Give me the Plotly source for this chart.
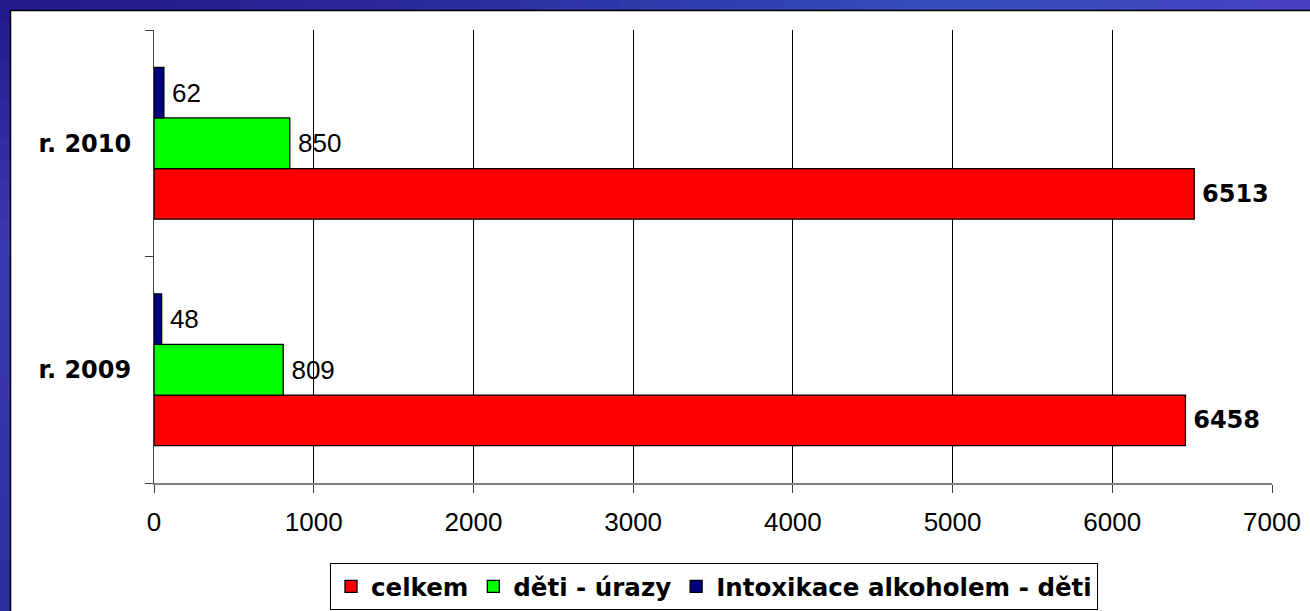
import plotly.graph_objects as go

categories = ["r. 2009", "r. 2010"]
celkem = [6458, 6513]
deti_urazy = [809, 850]
intoxikace = [48, 62]
series_names = ["celkem", "děti - úrazy", "Intoxikace alkoholem - děti"]
x_ticks = [0, 1000, 2000, 3000, 4000, 5000, 6000, 7000]

W, H = 1310, 611
L, R, T, B = 154, 38, 30, 128
pw, ph = W - L - R, H - T - B

def px(x):
    return (x - L) / pw

def py(y):
    return (H - B - y) / ph

reg_font = dict(family="Arial", size=26, color="black")
bold_font = dict(family="DejaVu Sans", size=24, color="black", weight="bold")

fig = go.Figure()
fig.add_trace(go.Bar(
    y=categories, x=celkem, name=series_names[0], orientation="h",
    marker=dict(color="#ff0000", line=dict(color="black", width=1.3)),
    text=celkem, texttemplate="\u2009%{x}", textposition="outside",
    textfont=bold_font, cliponaxis=False,
))
fig.add_trace(go.Bar(
    y=categories, x=deti_urazy, name=series_names[1], orientation="h",
    marker=dict(color="#00ff00", line=dict(color="black", width=1.3)),
    text=deti_urazy, texttemplate="\u2009%{x}", textposition="outside",
    textfont=reg_font, cliponaxis=False,
))
fig.add_trace(go.Bar(
    y=categories, x=intoxikace, name=series_names[2], orientation="h",
    marker=dict(color="#000080", line=dict(color="black", width=1.3)),
    text=intoxikace, texttemplate="\u2009%{x}", textposition="outside",
    textfont=reg_font, cliponaxis=False,
))

# decorative blue slide border (piecewise gradient)
def lerp(c1, c2, t):
    return "rgb(%d,%d,%d)" % tuple(round(a + (b - a) * t) for a, b in zip(c1, c2))

top_stops = [(0, (34, 26, 138)), (400, (42, 40, 156)), (950, (52, 80, 190)), (1310, (72, 64, 192))]
left_stops = [(0, (34, 26, 138)), (250, (60, 58, 176)), (611, (46, 46, 158))]

def grad(stops, pos):
    for (p0, c0), (p1, c1) in zip(stops, stops[1:]):
        if p0 <= pos <= p1:
            return lerp(c0, c1, (pos - p0) / (p1 - p0))
    return lerp(stops[-1][1], stops[-1][1], 0)

shapes = []
step = 20
for x0 in range(0, W, step):
    shapes.append(dict(type="rect", xref="paper", yref="paper", layer="below",
                       x0=px(x0), x1=px(x0 + step + 1), y0=py(12), y1=py(-2),
                       fillcolor=grad(top_stops, x0 + step / 2), line=dict(width=0)))
for y0 in range(0, H, step):
    shapes.append(dict(type="rect", xref="paper", yref="paper", layer="below",
                       x0=px(-2), x1=px(12), y0=py(y0 + step + 1), y1=py(y0),
                       fillcolor=grad(left_stops, y0 + step / 2), line=dict(width=0)))
shapes.append(dict(type="rect", xref="paper", yref="paper", layer="below",
                   x0=px(10.5), x1=px(W + 20), y0=py(H + 20), y1=py(10.5),
                   fillcolor="white", line=dict(color="black", width=1.5)))

fig.update_layout(
    width=W, height=H,
    margin=dict(l=L, r=R, t=T, b=B, pad=0),
    paper_bgcolor="#2b2c9c",
    plot_bgcolor="white",
    barmode="group", bargap=0.33, bargroupgap=0,
    showlegend=True,
    legend=dict(
        orientation="h", xref="container", yref="container",
        x=714 / W, xanchor="center", y=(H - 563) / H, yanchor="top",
        bgcolor="white", bordercolor="black", borderwidth=1,
        font=dict(family="DejaVu Sans", size=24.5, color="black", weight="bold"),
        traceorder="normal", itemwidth=30,
    ),
    shapes=shapes,
    xaxis=dict(
        range=[0, 7000], tickvals=x_ticks, ticktext=[str(v) for v in x_ticks],
        showgrid=True, gridcolor="black", gridwidth=1,
        showline=True, linecolor="#808080", linewidth=1.5,
        ticks="outside", ticklen=8, tickcolor="#404040", tickwidth=1,
        tickfont=reg_font, ticklabelstandoff=7, zeroline=False,
        fixedrange=True, automargin=False,
    ),
    yaxis=dict(
        type="category", categoryorder="array", categoryarray=categories,
        showgrid=False, showline=True, linecolor="#404040", linewidth=1,
        ticks="outside", ticklen=8, tickcolor="#404040", tickson="boundaries",
        tickfont=bold_font, ticklabelstandoff=17, fixedrange=True,
        automargin=False,
    ),
)

fig.write_html(
    "out.html",
    config={"displayModeBar": False},
    post_script="document.body.style.margin='0';document.body.style.overflow='hidden';",
)
